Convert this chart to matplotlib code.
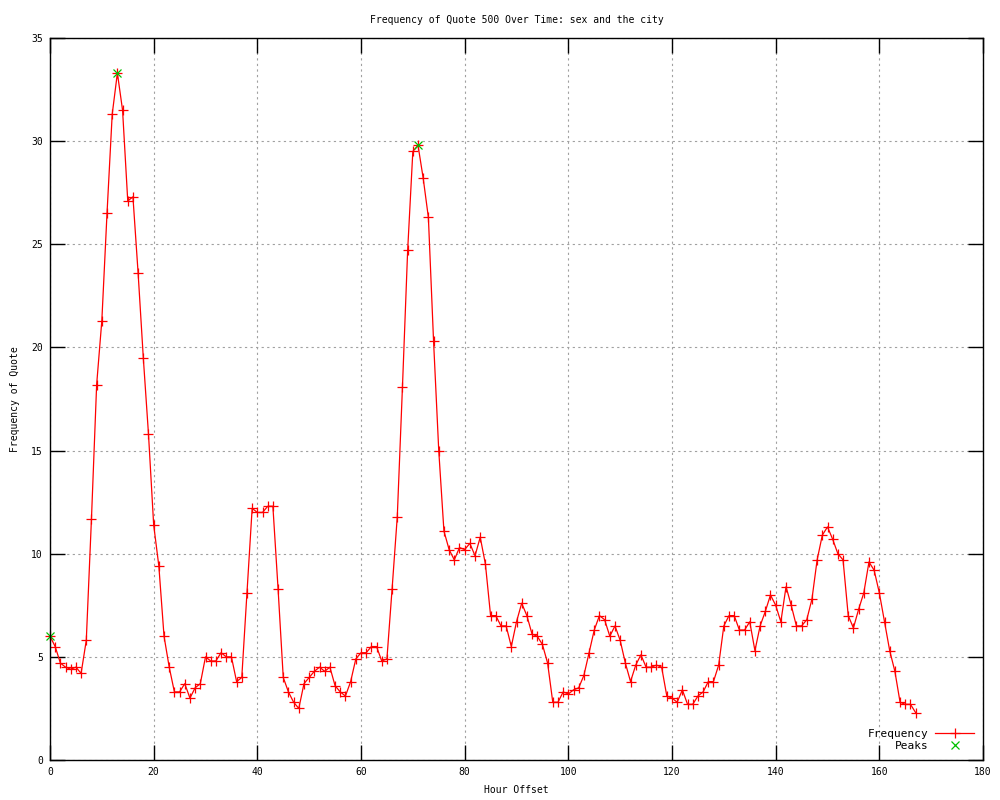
import matplotlib.pyplot as plt

FONT = "DejaVu Sans Mono"
FONT_SIZE = 7

hours = list(range(168))
frequency = [
    6.0, 5.5, 4.7, 4.5, 4.4, 4.5, 4.2, 5.8, 11.7, 18.2,
    21.3, 26.5, 31.3, 33.3, 31.5, 27.1, 27.3, 23.6, 19.5, 15.8,
    11.4, 9.4, 6.0, 4.5, 3.3, 3.3, 3.7, 3.0, 3.5, 3.7,
    5.0, 4.8, 4.8, 5.2, 5.0, 5.0, 3.8, 4.0, 8.1, 12.2,
    12.0, 12.0, 12.3, 12.3, 8.3, 4.0, 3.3, 2.8, 2.5, 3.7,
    4.0, 4.3, 4.5, 4.3, 4.5, 3.6, 3.3, 3.1, 3.8, 4.9,
    5.2, 5.2, 5.5, 5.5, 4.8, 4.9, 8.3, 11.8, 18.1, 24.7,
    29.5, 29.8, 28.2, 26.3, 20.3, 15.0, 11.1, 10.2, 9.7, 10.3,
    10.2, 10.5, 9.9, 10.8, 9.5, 7.0, 7.0, 6.5, 6.5, 5.5,
    6.7, 7.6, 7.0, 6.1, 6.0, 5.6, 4.7, 2.8, 2.8, 3.3,
    3.2, 3.4, 3.5, 4.1, 5.2, 6.3, 7.0, 6.8, 6.0, 6.5,
    5.8, 4.7, 3.8, 4.6, 5.1, 4.5, 4.5, 4.6, 4.5, 3.1,
    3.0, 2.8, 3.4, 2.7, 2.7, 3.1, 3.3, 3.8, 3.8, 4.6,
    6.5, 7.0, 7.0, 6.3, 6.3, 6.7, 5.3, 6.5, 7.2, 8.0,
    7.5, 6.7, 8.4, 7.5, 6.5, 6.5, 6.8, 7.8, 9.7, 10.9,
    11.3, 10.7, 10.0, 9.7, 7.0, 6.4, 7.3, 8.1, 9.6, 9.2,
    8.1, 6.7, 5.3, 4.3, 2.8, 2.7, 2.7, 2.3,
]
peak_hours = [0, 13, 71]
peak_values = [6.0, 33.3, 29.8]

x_ticks = list(range(0, 181, 20))
y_ticks = list(range(0, 36, 5))

plt.rcParams["font.family"] = FONT
plt.rcParams["font.size"] = FONT_SIZE

fig = plt.figure(figsize=(10, 8), dpi=100)
ax = fig.add_axes([0.05, 0.05, 0.933, 0.9025])

ax.plot(hours, frequency, color="#ff0000", lw=0.9, marker="+",
        markersize=7, markeredgewidth=0.9, label="Frequency", clip_on=False)
ax.plot(peak_hours, peak_values, color="#00c000", lw=0, marker="x",
        markersize=6, markeredgewidth=0.9, label="Peaks", clip_on=False)

ax.set_xlim(0, 180)
ax.set_ylim(0, 35)
ax.set_xticks(x_ticks)
ax.set_yticks(y_ticks)
ax.tick_params(direction="in", length=11, width=1, top=True, right=True,
               labelsize=FONT_SIZE, pad=5)
ax.grid(True, color="#a0a0a0", linestyle=(0, (2, 3)), linewidth=0.8)
for spine in ax.spines.values():
    spine.set_linewidth(1)

ax.set_title("Frequency of Quote 500 Over Time: sex and the city",
             fontsize=FONT_SIZE, pad=11)
ax.set_xlabel("Hour Offset", fontsize=FONT_SIZE, labelpad=6)
ax.set_ylabel("Frequency of Quote", fontsize=FONT_SIZE, labelpad=8)

ax.legend(loc="lower right", frameon=False, markerfirst=False,
          fontsize=FONT_SIZE + 1, handlelength=3.5, borderaxespad=0.4,
          labelspacing=0.2, handletextpad=0.6)

fig.savefig("out.png", dpi=100)
